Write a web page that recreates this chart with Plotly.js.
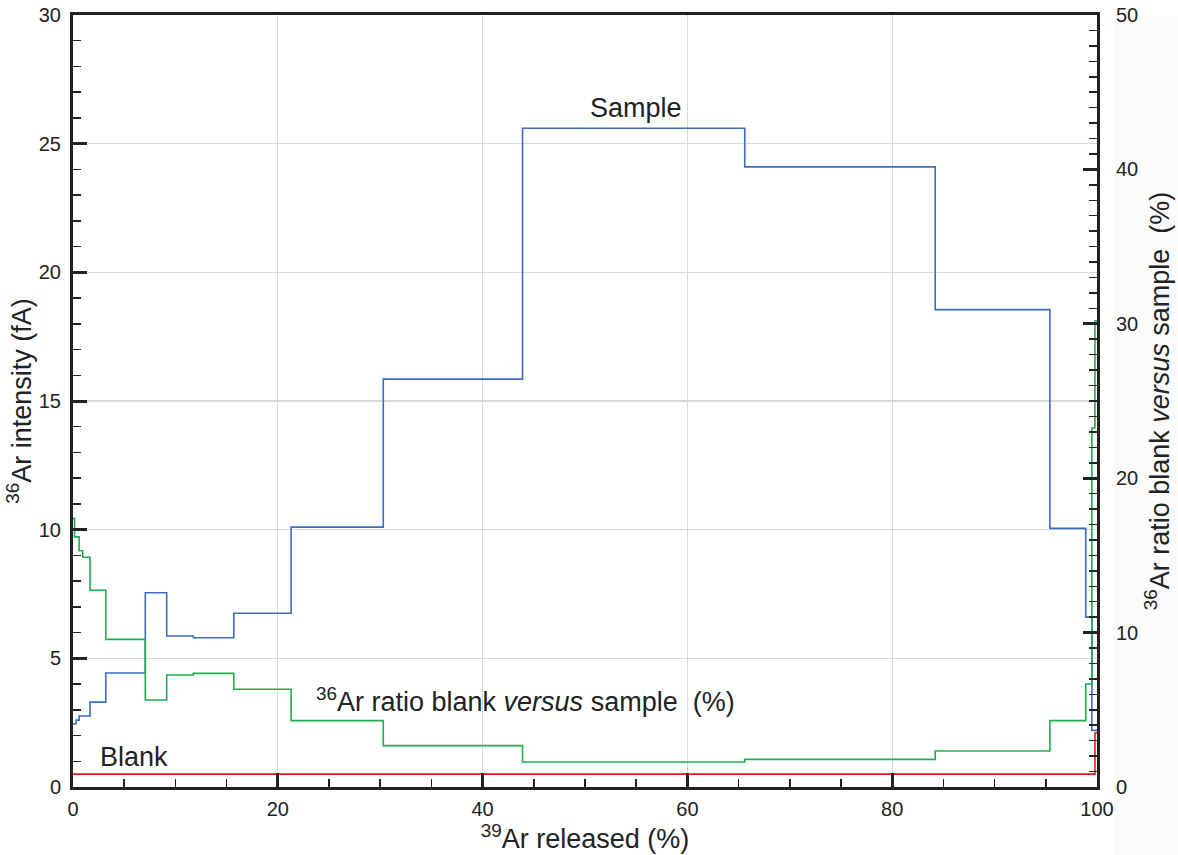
<!DOCTYPE html>
<html>
<head>
<meta charset="utf-8">
<script src="https://cdn.plot.ly/plotly-3.0.1.min.js"></script>
<style>html,body{margin:0;padding:0;background:#fff;}#chart{width:1178px;height:855px;}</style>
</head>
<body>
<div id="chart"></div>
<script>
// Step boundaries (% 39Ar released) and values
const sampleX = [0, 0.3, 0.6, 1.66, 3.2, 7.06, 9.15, 11.75, 15.7, 21.3, 30.3, 43.9, 65.6, 84.2, 95.4, 98.9, 99.5, 100];
const sampleY = [2.45, 2.6, 2.76, 3.3, 4.43, 7.55, 5.87, 5.80, 6.75, 10.1, 15.85, 25.6, 24.1, 18.55, 10.05, 6.6, 2.2, 2.2];

const ratioX = [0, 0.15, 0.6, 0.95, 1.66, 3.2, 7.06, 9.15, 11.75, 15.7, 21.3, 30.3, 43.9, 65.6, 84.2, 95.4, 98.9, 99.5, 99.8, 100];
const ratioY = [17.4, 16.2, 15.3, 14.88, 12.74, 9.56, 5.63, 7.25, 7.36, 6.33, 4.3, 2.68, 1.62, 1.79, 2.33, 4.3, 6.67, 23.25, 30.2, 30.2];

const blankX = [0, 99.8, 100];
const blankY = [0.5, 2.1, 2.1];

const font = "Liberation Sans, Arial, Helvetica, sans-serif";
const titleFont = {size: 27, family: font, color: '#222'};

const traces = [
  {x: blankX, y: blankY, type: 'scatter', mode: 'lines', line: {shape: 'hv', color: '#e8161e', width: 1.6}, hoverinfo: 'skip'},
  {x: ratioX, y: ratioY, type: 'scatter', mode: 'lines', yaxis: 'y2', line: {shape: 'hv', color: '#1fae4b', width: 1.6}, hoverinfo: 'skip'},
  {x: sampleX, y: sampleY, type: 'scatter', mode: 'lines', line: {shape: 'hv', color: '#3b6cc0', width: 1.6}, hoverinfo: 'skip'}
];

const layout = {
  width: 1178, height: 855,
  margin: {l: 73, r: 81, t: 15, b: 68},
  paper_bgcolor: '#ffffff', plot_bgcolor: '#ffffff',
  showlegend: false,
  font: {family: font, size: 20, color: '#222'},
  xaxis: {
    range: [0, 100], tickvals: [0, 20, 40, 60, 80, 100],
    showgrid: true, gridcolor: '#d9d9d9', gridwidth: 1.2,
    minor: {dtick: 5, ticks: 'inside', ticklen: 8, tickwidth: 1.5, tickcolor: '#222', showgrid: false},
    ticks: 'inside', ticklen: 14, tickwidth: 3, tickcolor: '#222',
    showline: true, linecolor: '#222', linewidth: 3, mirror: true,
    zeroline: false, ticklabelstandoff: 2,
    title: {text: '<sup>39</sup>Ar released (%)', font: titleFont, standoff: 2}
  },
  yaxis: {
    range: [0, 30], dtick: 5,
    showgrid: true, gridcolor: '#d9d9d9', gridwidth: 1.2,
    minor: {dtick: 1, ticks: 'inside', ticklen: 8, tickwidth: 1.5, tickcolor: '#222', showgrid: false},
    ticks: 'inside', ticklen: 14, tickwidth: 3, tickcolor: '#222',
    showline: true, linecolor: '#222', linewidth: 3, mirror: true,
    zeroline: false, ticklabelstandoff: 5,
    title: {text: '<sup>36</sup>Ar intensity (fA)', font: titleFont, standoff: 0}
  },
  yaxis2: {
    range: [0, 50], dtick: 10, overlaying: 'y', side: 'right',
    showgrid: false,
    minor: {dtick: 1, ticks: 'inside', ticklen: 8, tickwidth: 1.5, tickcolor: '#222', showgrid: false},
    ticks: 'inside', ticklen: 14, tickwidth: 3, tickcolor: '#222',
    showline: true, linecolor: '#222', linewidth: 3,
    zeroline: false, ticklabelstandoff: 12,
    title: {text: '<sup>36</sup>Ar ratio blank <i>versus</i> sample  (%)', font: titleFont, standoff: 13}
  },
  shapes: [
    {type: 'rect', xref: 'paper', yref: 'paper', x0: 1.0166, x1: 1.08, y0: -0.09, y1: 0.9974, fillcolor: '#fbfbfb', line: {width: 0}, layer: 'below'}
  ],
  annotations: [
    {x: 55, y: 26.4, xref: 'x', yref: 'y', text: 'Sample', showarrow: false, font: titleFont},
    {x: 6, y: 1.15, xref: 'x', yref: 'y', text: 'Blank', showarrow: false, font: titleFont},
    {x: 44.2, y: 3.4, xref: 'x', yref: 'y', text: '<sup>36</sup>Ar ratio blank <i>versus</i> sample  (%)', showarrow: false, font: titleFont}
  ]
};

Plotly.newPlot('chart', traces, layout, {staticPlot: true, displayModeBar: false});
</script>
</body>
</html>
